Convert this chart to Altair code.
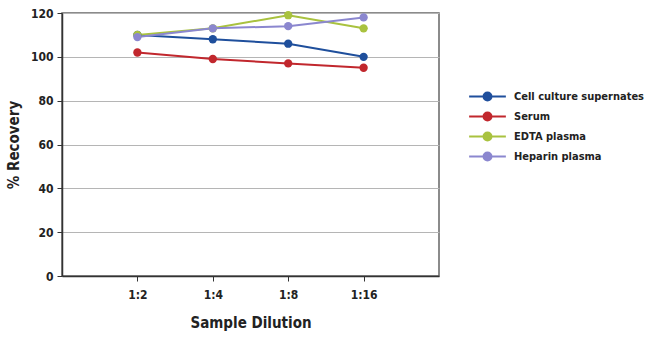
import altair as alt
import pandas as pd

dilutions = ["1:2", "1:4", "1:8", "1:16"]
series_names = ["Cell culture supernates", "Serum", "EDTA plasma", "Heparin plasma"]
cell_culture = [110, 108, 106, 100]
serum = [102, 99, 97, 95]
edta = [110, 113, 119, 113]
heparin = [109, 113, 114, 118]
colors = ["#1f4f9c", "#c1272d", "#a9c23f", "#8b87cf"]
y_ticks = [0, 20, 40, 60, 80, 100, 120]

rows = []
for name, vals in zip(series_names, [cell_culture, serum, edta, heparin]):
    for d, v in zip(dilutions, vals):
        rows.append({"Dilution": d, "Recovery": v, "Series": name})
df = pd.DataFrame(rows)

FONT = "DejaVu Sans Condensed"

x = alt.X("Dilution:N", sort=dilutions,
          scale=alt.Scale(type="point", padding=1),
          axis=alt.Axis(title="Sample Dilution", labelAngle=0, tickSize=5,
                        labelPadding=8, titlePadding=15, grid=False))
y = alt.Y("Recovery:Q", scale=alt.Scale(domain=[0, 120]),
          axis=alt.Axis(title="% Recovery", values=y_ticks, tickSize=5,
                        labelPadding=4, titlePadding=9, grid=True))
scale_c = alt.Scale(domain=series_names, range=colors)

legend_path = "M-3,0L-0.65,0M0.65,0L3,0M0,-0.65A0.65,0.65,0,1,1,0,0.65A0.65,0.65,0,1,1,0,-0.65Z"

def make_legend():
    return alt.Legend(title=None, orient="none", legendX=418, legendY=76,
                      symbolType=legend_path, symbolSize=150,
                      symbolStrokeWidth=2, labelOffset=19,
                      labelFontSize=11, labelFont=FONT, labelFontWeight="bold",
                      labelColor="#222", rowPadding=3, labelLimit=200)

lines = alt.Chart(df).mark_line(strokeWidth=2).encode(
    x=x, y=y,
    color=alt.Color("Series:N", sort=series_names, scale=scale_c, legend=make_legend()),
)
points = alt.Chart(df).mark_circle(size=70, opacity=1).encode(
    x=x, y=y,
    fill=alt.Fill("Series:N", sort=series_names, scale=scale_c, legend=make_legend()),
)

chart = alt.layer(lines, points).properties(
    width=377, height=263,
    padding={"left": 62, "top": 13, "right": 211, "bottom": 65},
    autosize=alt.AutoSizeParams(type="none"),
    background="white",
).configure_view(stroke="#666", strokeWidth=1.5).configure_axis(
    domainColor="#333", domainWidth=1.5, tickColor="#333",
    gridColor="#b5b5b5", gridWidth=1,
    labelFont=FONT, labelFontSize=12, labelFontWeight="bold", labelColor="#222",
    titleFont=FONT, titleFontSize=15, titleFontWeight="bold", titleColor="#222",
)

chart.save("out.html", embed_options={"renderer": "svg", "actions": False})
